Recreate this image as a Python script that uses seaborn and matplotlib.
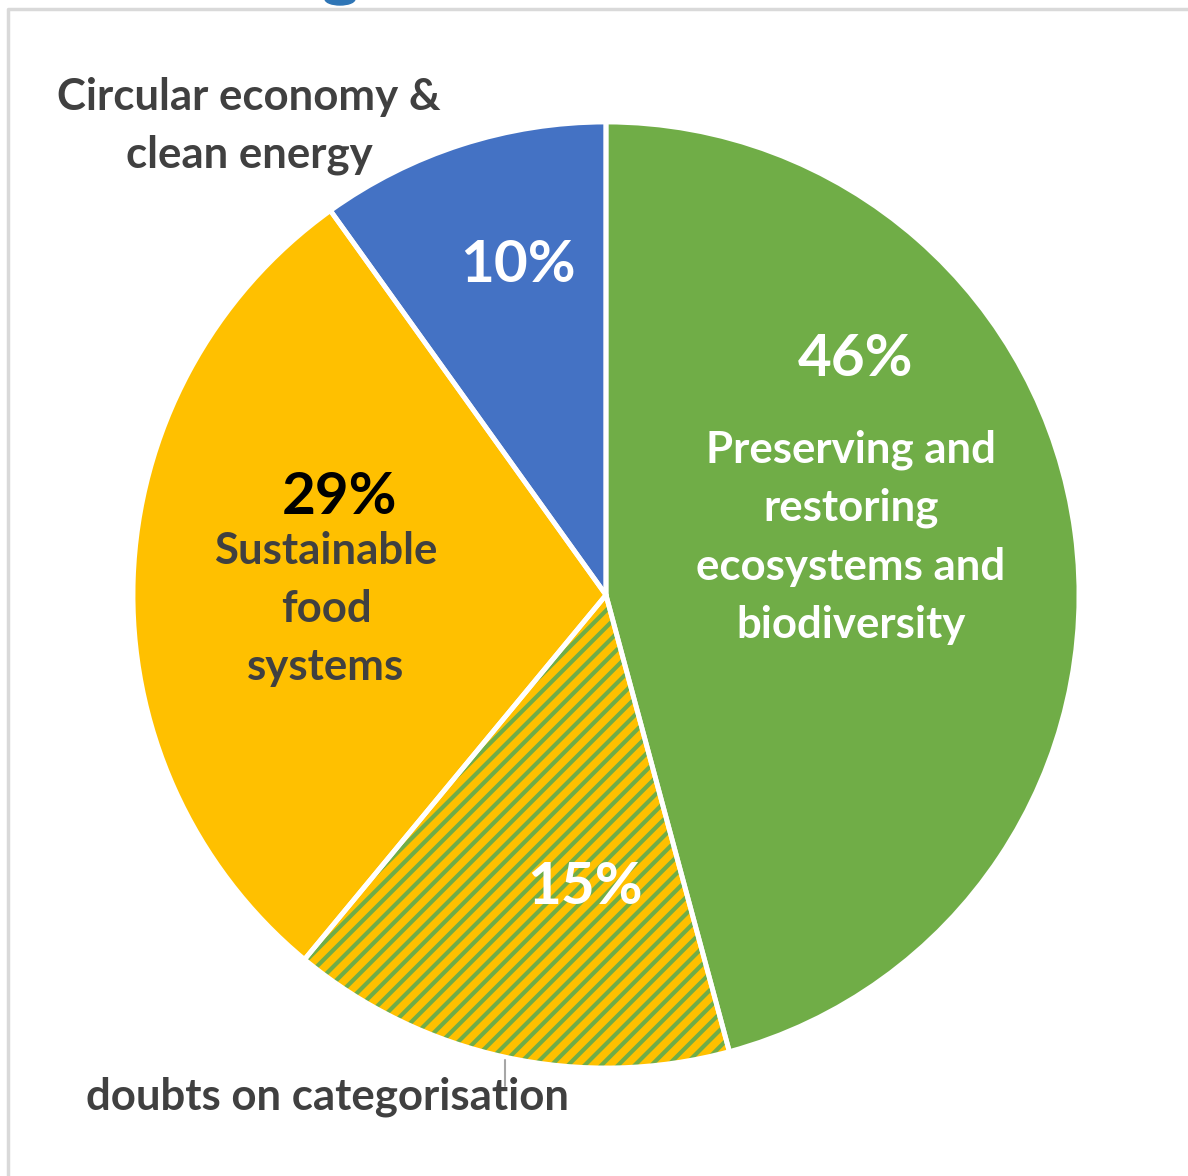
import numpy as np
import matplotlib.pyplot as plt
import seaborn as sns
from matplotlib.patches import Ellipse

# data, clockwise from 12 o'clock (shares)
categories = ['Preserving and\nrestoring\necosystems and\nbiodiversity',
              'doubts on categorisation',
              'Sustainable\nfood\nsystems',
              'Circular economy &\nclean energy']
shares = [45.8, 15.2, 29.1, 9.9]
pct_labels = ['46%', '15%', '29%', '10%']
colors = ['#70AD47', '#FFC000', '#FFC000', '#4472C4']

sns.set_theme(style='white')
plt.rcParams['font.family'] = ['Lato', 'DejaVu Sans']
plt.rcParams['hatch.linewidth'] = 3.0

W, H = 1188, 1176
fig = plt.figure(figsize=(W / 100, H / 100), dpi=100)
ax = fig.add_axes([0, 0, 1, 1])

# pie centre / radius in pixel units
cx, cy, r = 606, H - 595, 473
wedges, _ = ax.pie(shares, colors=colors, startangle=90, counterclock=False,
                   center=(cx, cy), radius=r, wedgeprops=dict(linewidth=0))

# striped slice: yellow with green diagonal stripes
wedges[1].set_hatch('//')
wedges[1].set_edgecolor('#70AD47')
wedges[1].set_linewidth(0)
if hasattr(wedges[1], 'set_hatch_linewidth'):
    wedges[1].set_hatch_linewidth(3.0)

# white separators on top
ax.pie(shares, colors=['none'] * 4, startangle=90, counterclock=False,
       center=(cx, cy), radius=r,
       wedgeprops=dict(edgecolor='white', linewidth=3.5, fill=False))

ax.set_xlim(0, W)
ax.set_ylim(0, H)
ax.set_aspect('equal')
ax.axis('off')

def txt(x, y, s, size, color, **kw):
    ax.text(x, H - y, s, fontsize=size, color=color, fontweight='bold',
            ha='center', va='center', **kw)

# percentages
txt(856, 360, pct_labels[0], 42, 'white')
txt(585, 887, pct_labels[1], 42, 'white')
txt(340, 497, pct_labels[2], 42, 'black')
txt(518, 265, pct_labels[3], 42, 'white')

# category labels
txt(851, 537, categories[0], 31.5, 'white', linespacing=1.55)
txt(326, 609, categories[2], 31.5, '#404040', linespacing=1.54)
txt(249, 126, categories[3], 31.5, '#404040', linespacing=1.53)
txt(328, 1097, categories[1], 31.5, '#404040')

# leader line for the striped slice
ax.plot([505, 505], [H - 1060, H - 1086], color='#A6A6A6', lw=1.5)

# frame lines and cut-off logo piece at the top
ax.plot([8, 8, W], [0, H - 9, H - 9], color='#D9D9D9', lw=2.5, solid_capstyle='butt')
ax.add_patch(Ellipse((340, H + 1), 30, 12, color='#2E75B6'))

fig.savefig('out.png', dpi=100)
